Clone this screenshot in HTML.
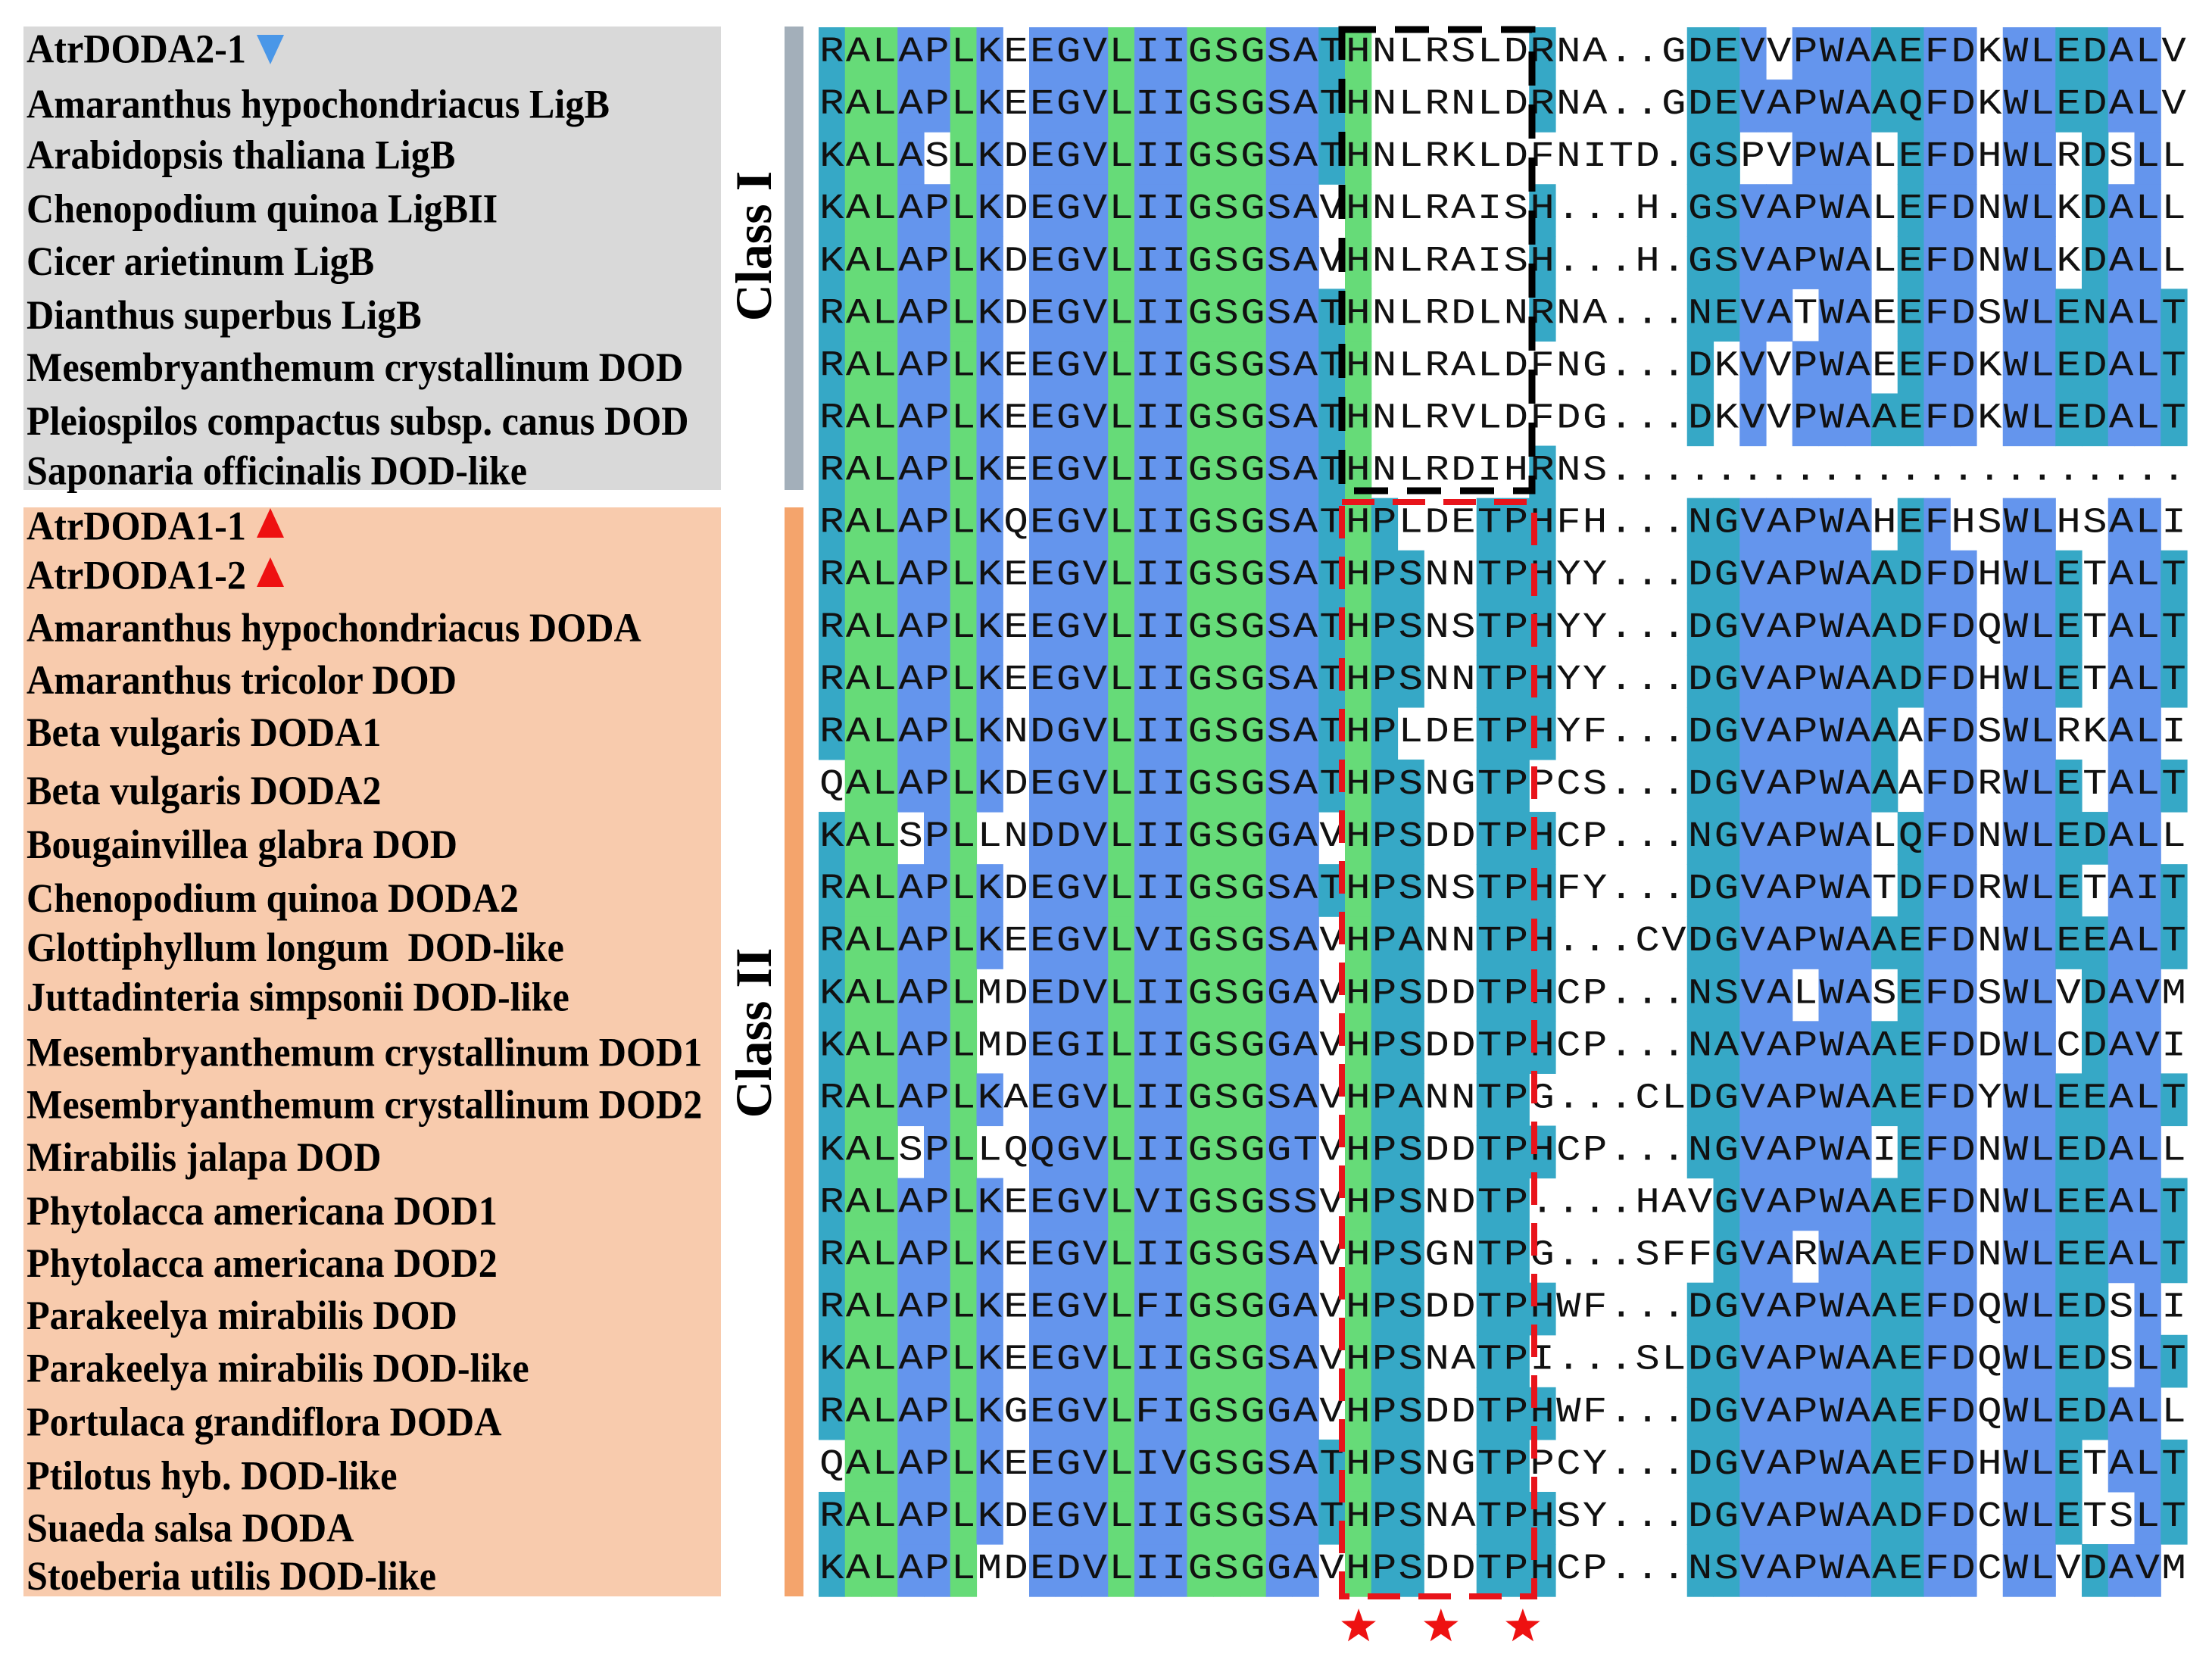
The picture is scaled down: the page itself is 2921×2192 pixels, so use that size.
<!DOCTYPE html>
<html><head><meta charset="utf-8"><title>DODA alignment</title>
<style>
html,body{margin:0;padding:0;background:#fff;}
svg{display:block;}
.lab{font-family:"Liberation Serif",serif;font-weight:bold;font-size:54px;fill:#000;}
.cls{font-family:"Liberation Serif",serif;font-weight:bold;font-size:68px;fill:#000;}
.res{font-family:"Liberation Mono",monospace;font-size:47px;fill:#111;font-weight:500;}
</style></head>
<body>
<svg id="fig" width="2921" height="2192" viewBox="0 0 2921 2192" xmlns="http://www.w3.org/2000/svg">
  <rect x="31" y="35" width="921" height="612" fill="#D9D9D9"/>
  <rect x="31" y="670" width="921" height="1438" fill="#F8CBAD"/>
  <rect x="1036" y="35" width="25" height="612" fill="#A3AFBA"/>
  <rect x="1036" y="670" width="25" height="1438" fill="#F4A46C"/>
  <text class="cls" transform="translate(1018,325) rotate(-90)" text-anchor="middle">Class I</text>
  <text class="cls" transform="translate(1018,1364) rotate(-90)" text-anchor="middle">Class II</text>
  <g id="cells"></g>
  <g id="letters"></g>
  <g id="labels"></g>
  <rect x="1772" y="39" width="251" height="609" fill="none" stroke="#000" stroke-width="9" stroke-dasharray="45 25"/>
  <rect x="1772" y="663" width="254" height="1445" fill="none" stroke="#E8141B" stroke-width="8" stroke-dasharray="43 24"/>
  <g id="marks"></g>
</svg>
<script>
const labels = ["AtrDODA2-1","Amaranthus hypochondriacus LigB","Arabidopsis thaliana LigB","Chenopodium quinoa LigBII","Cicer arietinum LigB","Dianthus superbus LigB","Mesembryanthemum crystallinum DOD","Pleiospilos compactus subsp. canus DOD","Saponaria officinalis DOD-like",
"AtrDODA1-1","AtrDODA1-2","Amaranthus hypochondriacus DODA","Amaranthus tricolor DOD","Beta vulgaris DODA1","Beta vulgaris DODA2","Bougainvillea glabra DOD","Chenopodium quinoa DODA2","Glottiphyllum longum\u00a0 DOD-like","Juttadinteria simpsonii DOD-like","Mesembryanthemum crystallinum DOD1","Mesembryanthemum crystallinum DOD2","Mirabilis jalapa DOD","Phytolacca americana DOD1","Phytolacca americana DOD2","Parakeelya mirabilis DOD","Parakeelya mirabilis DOD-like","Portulaca grandiflora DODA","Ptilotus hyb. DOD-like","Suaeda salsa DODA","Stoeberia utilis DOD-like"];
const labelY = [35,74,110,148,185,223,260,298,333,372,407,444,481,518,559,597,635,670,705,744,781,818,856,893,930,967,1005,1043,1080,1114];
const classOf = [1,1,1,1,1,1,1,1,1,2,2,2,2,2,2,2,2,2,2,2,2,2,2,2,2,2,2,2,2,2];
const seqs = [
"RALAPLKEEGVLIIGSGSATHNLRSLDRNA..GDEVVPWAAEFDKWLEDALV",
"RALAPLKEEGVLIIGSGSATHNLRNLDRNA..GDEVAPWAAQFDKWLEDALV",
"KALASLKDEGVLIIGSGSATHNLRKLDFNITD.GSPVPWALEFDHWLRDSLL",
"KALAPLKDEGVLIIGSGSAVHNLRAISH...H.GSVAPWALEFDNWLKDALL",
"KALAPLKDEGVLIIGSGSAVHNLRAISH...H.GSVAPWALEFDNWLKDALL",
"RALAPLKDEGVLIIGSGSATHNLRDLNRNA...NEVATWAEEFDSWLENALT",
"RALAPLKEEGVLIIGSGSATHNLRALDFNG...DKVVPWAEEFDKWLEDALT",
"RALAPLKEEGVLIIGSGSATHNLRVLDFDG...DKVVPWAAEFDKWLEDALT",
"RALAPLKEEGVLIIGSGSATHNLRDIHRNS......................",
"RALAPLKQEGVLIIGSGSATHPLDETPHFH...NGVAPWAHEFHSWLHSALI",
"RALAPLKEEGVLIIGSGSATHPSNNTPHYY...DGVAPWAADFDHWLETALT",
"RALAPLKEEGVLIIGSGSATHPSNSTPHYY...DGVAPWAADFDQWLETALT",
"RALAPLKEEGVLIIGSGSATHPSNNTPHYY...DGVAPWAADFDHWLETALT",
"RALAPLKNDGVLIIGSGSATHPLDETPHYF...DGVAPWAAAFDSWLRKALI",
"QALAPLKDEGVLIIGSGSATHPSNGTPPCS...DGVAPWAAAFDRWLETALT",
"KALSPLLNDDVLIIGSGGAVHPSDDTPHCP...NGVAPWALQFDNWLEDALL",
"RALAPLKDEGVLIIGSGSATHPSNSTPHFY...DGVAPWATDFDRWLETAIT",
"RALAPLKEEGVLVIGSGSAVHPANNTPH...CVDGVAPWAAEFDNWLEEALT",
"KALAPLMDEDVLIIGSGGAVHPSDDTPHCP...NSVALWASEFDSWLVDAVM",
"KALAPLMDEGILIIGSGGAVHPSDDTPHCP...NAVAPWAAEFDDWLCDAVI",
"RALAPLKAEGVLIIGSGSAVHPANNTPG...CLDGVAPWAAEFDYWLEEALT",
"KALSPLLQQGVLIIGSGGTVHPSDDTPHCP...NGVAPWAIEFDNWLEDALL",
"RALAPLKEEGVLVIGSGSSVHPSNDTP....HAVGVAPWAAEFDNWLEEALT",
"RALAPLKEEGVLIIGSGSAVHPSGNTPG...SFFGVARWAAEFDNWLEEALT",
"RALAPLKEEGVLFIGSGGAVHPSDDTPHWF...DGVAPWAAEFDQWLEDSLI",
"KALAPLKEEGVLIIGSGSAVHPSNATPI...SLDGVAPWAAEFDQWLEDSLT",
"RALAPLKGEGVLFIGSGGAVHPSDDTPHWF...DGVAPWAAEFDQWLEDALL",
"QALAPLKEEGVLIVGSGSATHPSNGTPPCY...DGVAPWAAEFDHWLETALT",
"RALAPLKDEGVLIIGSGSATHPSNATPHSY...DGVAPWAADFDCWLETSLT",
"KALAPLMDEDVLIIGSGGAVHPSDDTPHCP...NSVAPWAAEFDCWLVDAVM"];
const colColor = ["T","G","G","B","B","G","B","","B","B","B","G","B","B","G","G","G","B","B","T","G","T","T","","","T","T","T","","","","","","T","T","B","B","B","B","B","T","T","B","B","","B","B","T","T","B","B","T"];
const colResI  = ["RK","A","L","A","P","L","K","","EDQ","GD","VI","L","IVF","IV","G","S","G","SGT","AST","T","H","","","","","","","RH","","","","","","DNG","EGSA","V","A","P","W","A","A","EDQ","F","D","","W","L","E","DEN","A","LIV","T"];
const colResII = ["RK","A","L","A","P","L","K","","EDQ","GD","VI","L","IVF","IV","G","S","G","SGT","AST","T","H","P","SA","","","T","P","H","","","","","","DNG","GSAVLF","V","A","P","W","A","A","EDQ","F","D","","W","L","E","DEN","A","LIV","T"];
const starCols = [20.52, 23.65, 26.76];
const palette = {B:"#6495ED",G:"#66DB78",T:"#36A8C6"};
const X0 = 1081, CW = 34.75, Y0 = 36, RH = 69.07;
function xCol(c){ return X0 + c*CW; }
function yRow(r){ return Y0 + r*RH; }
function yLab(i){ return labelY[i]*1.869 + 17; }
const NS="http://www.w3.org/2000/svg";
const cells=document.getElementById('cells'), letters=document.getElementById('letters'), labs=document.getElementById('labels'), marks=document.getElementById('marks');
seqs.forEach((s,r)=>{
  const res = classOf[r]===1 ? colResI : colResII;
  for(let c=0;c<s.length;c++){
    const ch=s[c];
    if(colColor[c] && ch!=='.' && res[c].indexOf(ch)>=0){
      const rc=document.createElementNS(NS,'rect');
      rc.setAttribute('x',xCol(c)); rc.setAttribute('y',yRow(r));
      rc.setAttribute('width',CW+0.6); rc.setAttribute('height',RH+0.6);
      rc.setAttribute('fill',palette[colColor[c]]);
      
      
      cells.appendChild(rc);
    }
  }
  const g=document.createElementNS(NS,'g');
  g.setAttribute('transform','scale(1.15,1)');
  
  
  for(let c=0;c<s.length;c++){
    const t=document.createElementNS(NS,'text');
    t.setAttribute('class','res');
    t.setAttribute('x',(xCol(c)+CW/2)/1.15);
    t.setAttribute('y',yRow(r)+45);
    t.setAttribute('text-anchor','middle');
    
    
    t.textContent=s[c];
    g.appendChild(t);
  }
  letters.appendChild(g);
});
labels.forEach((l,i)=>{
  const t=document.createElementNS(NS,'text');
  t.setAttribute('class','lab');
  t.setAttribute('transform','translate(35,'+yLab(i)+') scale(0.93,1)');
  
  
  t.textContent=l; labs.appendChild(t);
});
function tri(x,yTop,h,up,col,name){
  const p=document.createElementNS(NS,'polygon');
  const pts = up ? [[x,yTop],[x+18,yTop+h],[x-18,yTop+h]] : [[x-18,yTop],[x+18,yTop],[x,yTop+h]];
  p.setAttribute('points',pts.map(q=>q.join(',')).join(' '));
  p.setAttribute('fill',col);
  
  
  marks.appendChild(p);
}
tri(357,46,39,false,'#4A97E8','atrdoda2-1-marker');
tri(357,671,39,true,'#EE1111','atrdoda1-1-marker');
tri(357,736,39,true,'#EE1111','atrdoda1-2-marker');
starCols.forEach(c=>{
  const cx=xCol(c), cy=2148, R=24, r2=9.8;
  let pts=[];
  for(let k=0;k<10;k++){const a=-Math.PI/2+k*Math.PI/5; const rr=k%2?r2:R; pts.push((cx+rr*Math.cos(a)).toFixed(1)+','+(cy+rr*Math.sin(a)).toFixed(1));}
  const p=document.createElementNS(NS,'polygon');
  p.setAttribute('points',pts.join(' ')); p.setAttribute('fill','#EE1111');
  
  
  marks.appendChild(p);
});
</script>
</body></html>
